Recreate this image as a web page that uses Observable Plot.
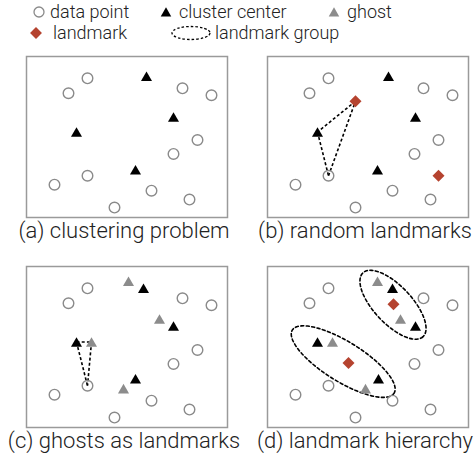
<!DOCTYPE html>
<html><head><meta charset="utf-8">
<script src="https://cdn.jsdelivr.net/npm/d3@7"></script>
<script src="https://cdn.jsdelivr.net/npm/@observablehq/plot@0.6"></script>
<style>
body{margin:0;background:#fff;}
#chart{width:474px;font-family:Roboto,"Liberation Sans",sans-serif;font-weight:300;color:#222}
#chart svg{display:block}
</style></head><body>
<div id="chart"></div>
<script>
// ---- data ----
const panels = ["a", "b", "c", "d"];
const panelCol = [0, 1, 0, 1];
const panelRow = [0, 0, 1, 1];
const captions = ["(a) clustering problem", "(b) random landmarks", "(c) ghosts as landmarks", "(d) landmark hierarchy"];

// data points (same in every panel)
const pointX = [61, 42, 156, 185, 171, 147, 61, 28, 125, 163, 88];
const pointY = [22, 37, 32, 39, 84, 98, 120, 129, 135, 144, 152];

// cluster centers
const centerPanel = ["a","a","a","a", "b","b","b","b", "c","c","c","c", "d","d","d","d"];
const centerX = [120, 147, 50, 109, 121, 148, 50, 110, 117, 147, 50, 109, 125, 148, 50, 111];
const centerY = [20, 61, 76, 114, 20, 61, 76, 114, 22, 60, 76, 113, 22, 60, 76, 113];

// ghosts
const ghostPanel = ["c","c","c","c", "d","d","d","d"];
const ghostX = [102, 133, 65, 97, 110, 133, 65, 98];
const ghostY = [15, 53, 76, 123, 15, 53, 76, 123];

// landmarks
const landmarkPanel = ["b", "b", "d", "d"];
const landmarkX = [88, 171, 126, 81];
const landmarkY = [45, 120, 38, 97];

// dotted distance links
const linkPanel = ["b", "b", "b", "c", "c", "c"];
const linkX1 = [88, 50, 61, 50, 65, 50];
const linkY1 = [45, 76, 120, 76, 76, 76];
const linkX2 = [50, 61, 88, 61, 61, 65];
const linkY2 = [76, 120, 45, 120, 120, 76];

// landmark groups (ellipses): center, semi-axes, rotation in degrees
const groupPanel = ["d", "d"];
const groupCX = [125.5, 75.7];
const groupCY = [38.5, 95.7];
const groupA = [44, 60];
const groupB = [19, 20];
const groupAngle = [47, 32];

// legend
const legendLabels = ["data point", "cluster center", "ghost", "landmark", "landmark group"];
const legendKinds = ["point", "center", "ghost", "landmark", "group"];

// ---- styles ----
const C = {
  point: "#8a8a8a", center: "#000", ghost: "#8c8c8c", landmark: "#b5432f",
  frame: "#9a9a9a", text: "#222"
};

const col = p => panelCol[panels.indexOf(p)];
const row = p => panelRow[panels.indexOf(p)];

const pointsData = panels.flatMap(p => pointX.map((x, i) => ({p, x, y: pointY[i]})));
const centerData = centerPanel.map((p, i) => ({p, x: centerX[i], y: centerY[i]}));
const ghostData = ghostPanel.map((p, i) => ({p, x: ghostX[i], y: ghostY[i]}));
const landmarkData = landmarkPanel.map((p, i) => ({p, x: landmarkX[i], y: landmarkY[i]}));
const linkData = linkPanel.map((p, i) => ({p, x1: linkX1[i], y1: linkY1[i], x2: linkX2[i], y2: linkY2[i]}));
const captionData = panels.map((p, i) => ({p, label: captions[i]}));
const ellipseData = groupPanel.flatMap((p, g) => {
  const th = groupAngle[g] * Math.PI / 180;
  return d3.range(72).map(k => {
    const t = k / 72 * 2 * Math.PI;
    const u = groupA[g] * Math.cos(t), v = groupB[g] * Math.sin(t);
    return {p, g, x: groupCX[g] + u * Math.cos(th) - v * Math.sin(th), y: groupCY[g] + u * Math.sin(th) + v * Math.cos(th)};
  });
});

const fxy = {fx: d => col(d.p), fy: d => row(d.p)};

// ---- legend ----
const legend = d3.create("svg").attr("width", 474).attr("height", 48)
  .style("font-family", "Roboto, 'Liberation Sans', sans-serif").style("font-weight", 300);
const legPos = [[39, 50, 12], [166, 179, 12], [334, 347, 12], [36, 53, 33], [191, 215, 33]];
legendKinds.forEach((k, i) => {
  const [sx, tx, cy] = legPos[i];
  const g = legend.append("g");
  if (k === "point") g.append("circle").attr("cx", sx).attr("cy", cy).attr("r", 5).attr("fill", "none").attr("stroke", C.point).attr("stroke-width", 1.3);
  if (k === "center" || k === "ghost") g.append("path").attr("transform", `translate(${sx},${cy + 1.4})`).attr("d", d3.symbol(d3.symbolTriangle, 48)()).attr("fill", k === "center" ? C.center : C.ghost);
  if (k === "landmark") g.append("path").attr("transform", `translate(${sx},${cy})`).attr("d", d3.symbol(d3.symbolDiamond2, 90)()).attr("fill", C.landmark);
  if (k === "group") g.append("ellipse").attr("cx", sx).attr("cy", cy).attr("rx", 19).attr("ry", 6.5).attr("fill", "none").attr("stroke", "#000").attr("stroke-width", 1.3).attr("stroke-dasharray", "2.5,2");
  g.append("text").attr("x", tx).attr("y", cy).attr("dy", "0.36em").attr("font-size", 18).attr("fill", C.text).text(legendLabels[i]);
});
document.getElementById("chart").append(legend.node());

// ---- main figure ----
const fig = Plot.plot({
  width: 474, height: 408,
  marginLeft: 26, marginRight: 6, marginTop: 7, marginBottom: 28,
  style: {fontFamily: "Roboto, 'Liberation Sans', sans-serif", fontWeight: 300, color: C.text, background: "#fff"},
  x: {domain: [0, 201], axis: null},
  y: {domain: [0, 162], axis: null, reverse: true},
  fx: {domain: [0, 1], axis: null, paddingInner: 0.166, paddingOuter: 0},
  fy: {domain: [0, 1], axis: null, paddingInner: 0.232, paddingOuter: 0},
  marks: [
    Plot.frame({stroke: C.frame, strokeWidth: 1.5}),
    Plot.link(linkData, {...fxy, x1: "x1", y1: "y1", x2: "x2", y2: "y2", stroke: "#000", strokeWidth: 1.6, strokeDasharray: "3,2.2"}),
    Plot.line(ellipseData, {...fxy, x: "x", y: "y", z: "g", curve: "linear-closed", stroke: "#000", strokeWidth: 1.6, strokeDasharray: "3,2.5"}),
    Plot.dot(pointsData, {...fxy, x: "x", y: "y", r: 5.3, stroke: C.point, strokeWidth: 1.4, fill: "none"}),
    Plot.dot(ghostData, {...fxy, x: "x", y: "y", symbol: "triangle", r: 4.1, fill: C.ghost, dy: 1.5}),
    Plot.dot(centerData, {...fxy, x: "x", y: "y", symbol: "triangle", r: 4.1, fill: C.center, dy: 1.5}),
    Plot.dot(landmarkData, {...fxy, x: "x", y: "y", symbol: "diamond2", r: 5.4, fill: C.landmark}),
    Plot.text(captionData, {...fxy, text: "label", frameAnchor: "bottom", dy: 20, dx: -3, fontSize: 22, fill: C.text})
  ]
});
document.getElementById("chart").append(fig);
</script>
</body></html>
